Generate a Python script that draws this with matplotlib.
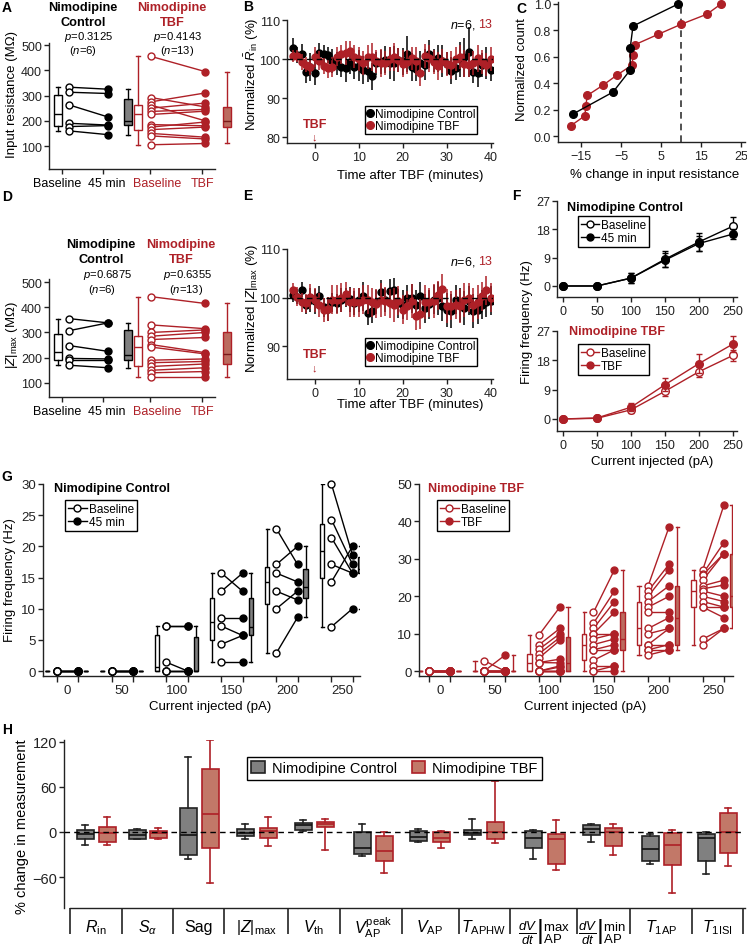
import numpy as np
import matplotlib
matplotlib.use('Agg')
import matplotlib.pyplot as plt
from matplotlib.lines import Line2D
from matplotlib.patches import Patch

plt.rcParams['font.family'] = ['Liberation Sans', 'DejaVu Sans']
plt.rcParams['font.size'] = 8.5
plt.rcParams['mathtext.fontset'] = 'custom'
plt.rcParams['mathtext.rm'] = 'Liberation Sans'
plt.rcParams['mathtext.it'] = 'Liberation Sans:italic'
plt.rcParams['mathtext.bf'] = 'Liberation Sans:bold'
plt.rcParams['axes.linewidth'] = 1.0
plt.rcParams['axes.edgecolor'] = '#222222'
plt.rcParams['xtick.major.width'] = 1.0
plt.rcParams['ytick.major.width'] = 1.0
plt.rcParams['xtick.major.size'] = 3.5
plt.rcParams['ytick.major.size'] = 3.5
plt.rcParams['xtick.major.pad'] = 2
plt.rcParams['ytick.major.pad'] = 1.5
plt.rcParams['xtick.color'] = '#222222'
plt.rcParams['ytick.color'] = '#222222'

RED = '#ae2027'
BROWN = '#bb6b5f'
HBROWN = '#c27868'
GREY = '#808080'

# ---------------- DATA ----------------
# Panel A: input resistance (MOhm)
A_ctrl_base = [333, 313, 263, 190, 177, 160]
A_ctrl_post = [325, 308, 215, 183, 181, 145]
A_tbf_base = [455, 292, 275, 262, 250, 237, 225, 185, 175, 165, 150, 140, 105]
A_tbf_post = [395, 255, 310, 200, 270, 245, 238, 180, 195, 175, 135, 128, 110]
A_p = ['0.3125', '0.4143']
A_n = [6, 13]
AD_xlabels = ['Baseline', '45 min', 'Baseline', 'TBF']

# Panel D: |Z|max (MOhm)
D_ctrl_base = [355, 307, 248, 197, 190, 170]
D_ctrl_post = [338, 338, 225, 195, 190, 160]
D_tbf_base = [442, 330, 300, 285, 272, 252, 242, 190, 180, 165, 150, 140, 125]
D_tbf_post = [415, 315, 310, 300, 280, 220, 215, 195, 185, 175, 160, 145, 125]
D_p = ['0.6875', '0.6355']

# Panels B and E: time courses
time_min = [-5, -4, -3, -2, -1, 0, 1, 2, 3, 4,
            5, 6, 7, 8, 9, 10, 11, 12, 13, 14,
            15, 16, 17, 18, 19, 20, 21, 22, 23, 24,
            25, 26, 27, 28, 29, 30, 31, 32, 33, 34,
            35, 36, 37, 38, 39, 40]
B_ctrl = [102.8, 101.0, 101.3, 96.8, 98.0, 96.4, 101.6, 101.2, 101.0, 99.5,
          98.8, 98.0, 97.7, 99.2, 98.0, 98.3, 97.2, 97.0, 95.6, 98.9,
          99.2, 99.8, 99.0, 98.9, 99.8, 99.4, 101.3, 98.0, 97.5, 99.0,
          98.6, 101.3, 99.6, 100.2, 99.5, 98.8, 97.0, 97.6, 99.9, 100.5,
          101.8, 96.8, 96.4, 98.5, 99.0, 97.3]
B_ctrl_err = [2.5, 2.0, 2.5, 3.0, 3.5, 3.0, 2.5, 2.5, 2.0, 3.0,
              3.0, 2.5, 3.5, 3.0, 3.0, 4.0, 3.5, 3.0, 3.5, 3.0,
              3.0, 3.5, 4.0, 4.5, 3.0, 3.5, 4.5, 3.5, 3.0, 3.0,
              4.0, 3.5, 3.0, 3.5, 4.0, 3.0, 3.5, 3.0, 4.5, 5.0,
              6.5, 3.0, 3.5, 3.0, 4.0, 3.0]
B_tbf = [100.8, 100.8, 99.2, 98.6, 98.0, 100.5, 99.6, 98.2, 97.6, 98.0,
         100.6, 101.2, 101.5, 102.0, 100.6, 100.0, 99.0, 100.5, 100.5, 99.4,
         99.0, 99.0, 100.0, 100.5, 99.8, 98.8, 99.2, 100.2, 99.5, 96.5,
         100.8, 100.2, 99.2, 98.2, 99.5, 98.7, 98.5, 100.0, 100.5, 98.8,
         98.5, 99.0, 100.2, 99.2, 98.6, 100.0]
B_tbf_err = [1.5, 1.5, 2.0, 2.0, 2.0, 2.5, 2.5, 2.0, 2.5, 2.5,
             2.5, 2.5, 3.0, 2.5, 3.0, 3.0, 3.0, 3.0, 3.5, 3.0,
             3.5, 3.0, 3.0, 3.5, 3.0, 3.5, 3.0, 3.0, 3.5, 3.5,
             3.0, 3.5, 3.0, 3.5, 3.0, 3.0, 3.5, 3.0, 3.0, 3.5,
             3.0, 3.0, 3.5, 3.0, 3.0, 3.0]
E_ctrl = [100.5, 100.2, 101.6, 98.5, 99.5, 99.2, 100.3, 98.0, 97.6, 99.0,
          98.8, 99.5, 100.0, 99.6, 98.8, 99.5, 100.3, 96.8, 97.2, 99.0,
          101.2, 99.5, 101.3, 101.5, 98.8, 98.5, 100.0, 99.8, 98.5, 100.3,
          97.8, 98.6, 99.5, 99.8, 98.2, 97.5, 97.2, 99.5, 98.5, 97.8,
          99.3, 97.2, 97.5, 98.5, 99.0, 99.3]
E_ctrl_err = [1.5, 1.5, 1.5, 2.0, 2.5, 2.5, 2.0, 2.0, 2.5, 2.0,
              2.0, 2.5, 2.0, 2.5, 2.5, 2.5, 3.0, 2.5, 2.5, 2.5,
              2.5, 2.5, 2.5, 2.5, 3.0, 3.0, 2.5, 3.0, 3.0, 3.0,
              3.0, 3.0, 3.0, 3.5, 3.0, 3.5, 3.5, 3.0, 3.5, 3.5,
              3.0, 3.5, 3.0, 3.0, 3.0, 3.0]
E_tbf = [101.5, 100.2, 99.0, 98.8, 100.2, 99.5, 98.5, 97.5, 97.6, 99.5,
         99.5, 100.0, 100.8, 99.0, 99.0, 99.0, 99.5, 99.5, 99.0, 98.7,
         99.5, 99.2, 98.8, 98.5, 99.3, 97.5, 98.3, 99.3, 96.2, 96.6,
         99.0, 99.0, 99.2, 100.5, 101.8, 98.3, 98.3, 98.5, 98.3, 99.5,
         100.0, 98.5, 99.0, 100.3, 101.5, 100.0]
E_tbf_err = [1.5, 2.0, 2.0, 2.0, 2.5, 2.5, 2.5, 2.5, 2.5, 3.0,
             3.0, 3.0, 2.5, 3.0, 3.0, 3.0, 3.0, 3.0, 3.0, 3.0,
             3.5, 3.0, 3.0, 3.5, 3.0, 3.0, 3.0, 3.5, 3.0, 3.0,
             3.5, 3.0, 3.5, 3.0, 3.0, 3.5, 3.0, 3.0, 3.5, 3.5,
             3.0, 3.5, 3.5, 3.0, 3.0, 3.0]

# Panel C: cumulative distributions of % change in Rin
C_ctrl_x = [-17.0, -7.0, -2.7, -2.7, -2.0, 9.3]
C_ctrl_y = [0.167, 0.333, 0.5, 0.667, 0.833, 1.0]
C_tbf_x = [-17.6, -14.0, -13.8, -13.4, -9.5, -6.0, -2.2, -2.0, -1.5, 4.2, 10.0, 16.5, 20.0]
C_tbf_y = [0.077, 0.154, 0.231, 0.308, 0.385, 0.462, 0.538, 0.615, 0.692, 0.769, 0.846, 0.923, 1.0]
C_threshold = 10

# Panel F: mean firing frequency
F_I = [0, 50, 100, 150, 200, 250]
F_ctrl_base = [0, 0, 2.5, 8.5, 14.0, 19.0]
F_ctrl_base_err = [0, 0, 1.5, 2.5, 2.8, 3.0]
F_ctrl_post = [0, 0, 2.5, 8.2, 13.5, 16.5]
F_ctrl_post_err = [0, 0, 1.5, 2.2, 2.5, 1.5]
F_tbf_base = [0, 0.2, 2.8, 8.5, 14.5, 19.5]
F_tbf_base_err = [0, 0.2, 1.0, 1.5, 1.5, 1.8]
F_tbf_post = [0, 0.3, 3.6, 10.5, 17.0, 23.0]
F_tbf_post_err = [0, 0.3, 1.2, 2.0, 3.0, 2.5]

# Panel G: individual firing frequencies
G_I = [0, 50, 100, 150, 200, 250]
G_ctrl_base = [[0, 0, 0, 0, 0, 0],
               [0, 0, 0, 0, 0, 0],
               [7.2, 7.2, 1.4, 0, 0, 0],
               [15.7, 12.8, 8.5, 7.2, 4.3, 1.4],
               [22.8, 17.1, 15.7, 12.8, 10.0, 2.9],
               [30.0, 24.3, 21.4, 17.1, 14.3, 7.1]]
G_ctrl_post = [[0, 0, 0, 0, 0, 0],
               [0, 0, 0, 0, 0, 0],
               [7.2, 7.2, 0, 0, 0, 0],
               [12.8, 15.7, 8.5, 5.7, 5.7, 1.4],
               [17.1, 20.0, 14.3, 11.4, 12.8, 8.6],
               [18.6, 17.1, 15.7, 15.7, 20.0, 10.0]]
G_tbf_base = [[0, 0, 0, 0, 0, 0, 0, 0, 0, 0, 0, 0, 0],
              [2.8, 0, 0, 0, 0, 0, 0, 0, 0, 0, 0, 0, 0],
              [9.6, 7.0, 5.8, 4.6, 3.5, 2.3, 2.3, 0, 0, 0, 0, 0, 0],
              [15.7, 12.8, 11.4, 10.0, 10.0, 8.6, 7.1, 5.7, 5.7, 2.9, 1.4, 0, 0],
              [22.8, 21.4, 20.0, 18.6, 17.1, 15.7, 11.4, 10.0, 7.1, 7.1, 5.7, 5.7, 4.3],
              [27.1, 26.0, 25.7, 24.3, 22.8, 22.0, 21.4, 20.0, 18.6, 17.1, 17.1, 8.6, 7.1]]
G_tbf_post = [[0, 0, 0, 0, 0, 0, 0, 0, 0, 0, 0, 0, 0],
              [0, 4.3, 0, 0, 0, 0, 0, 0, 0, 0, 0, 0, 0],
              [17.1, 11.4, 10.0, 9.0, 8.2, 3.2, 2.2, 1.4, 1.1, 0, 0, 0, 0],
              [27.1, 21.4, 18.6, 15.7, 10.0, 10.0, 8.6, 7.1, 5.7, 5.7, 1.4, 1.4, 0],
              [38.6, 28.6, 27.1, 22.8, 20.0, 15.7, 14.3, 11.4, 11.4, 7.1, 7.1, 5.7, 5.7],
              [44.3, 34.3, 31.4, 31.4, 24.3, 23.0, 20.0, 18.6, 17.1, 17.1, 14.3, 11.4, 11.4]]

# Panel H: % change box statistics
H_labels = [r'$R_{\rm in}$', r'$S_{\alpha}$', 'Sag', r'$|Z|_{\rm max}$', r'$V_{\rm th}$',
            r'$V_{\rm AP}^{\rm peak}$', r'$V_{\rm AP}$', r'$T_{\rm APHW}$',
            r'$\left.\frac{dV}{dt}\right|_{\rm AP}^{\rm max}$',
            r'$\left.\frac{dV}{dt}\right|_{\rm AP}^{\rm min}$',
            r'$T_{\rm 1AP}$', r'$T_{\rm 1ISI}$']
H_ctrl_med = [-3, -4, -4, -1, 9, -21, -7, -1, -8, 4, -23, -8]
H_ctrl_q1 = [-10, -10, -31, -6, 3, -29, -12, -4, -22, -4, -39, -39]
H_ctrl_q3 = [2, 3, 32, 4, 12, 0, 1, 3, 1, 9, -5, -3]
H_ctrl_lo = [-17, -10, -36, -10, 1, -32, -13, -9, -36, -13, -42, -56]
H_ctrl_hi = [9, 4, 100, 10, 16, 10, 4, 17, 3, 10, -3, 0]
H_tbf_med = [-2, -2, 24, 1, 10, -26, -8, 0, -10, 0, -17, 0]
H_tbf_q1 = [-14, -8, -21, -8, 7, -39, -13, -10, -42, -19, -44, -28]
H_tbf_q3 = [7, 1, 83, 5, 13, -5, 0, 13, -3, 5, -2, 25]
H_tbf_lo = [-18, -10, -68, -19, -24, -55, -22, -15, -51, -30, -81, -45]
H_tbf_hi = [20, 5, 122, 20, 17, 0, 1, 68, 16, 11, 2, 32]

# ---------------- LAYOUT HELPERS ----------------
W, H = 747, 945
fig = plt.figure(figsize=(W / 100, H / 100), dpi=100)


def px_ax(l, t, r, b):
    ax = fig.add_axes([l / W, 1 - b / H, (r - l) / W, (b - t) / H])
    ax.spines['top'].set_visible(False)
    ax.spines['right'].set_visible(False)
    ax.patch.set_alpha(0)
    return ax


def ftext(x, y, s, **kw):
    kw.setdefault('ha', 'center')
    kw.setdefault('va', 'center')
    return fig.text(x / W, 1 - y / H, s, **kw)


def vbox(ax, data, pos, width, face, edge, med, capw, lw=1.0):
    ax.boxplot([data], positions=[pos], widths=width, whis=(0, 100), patch_artist=True,
               showfliers=False, manage_ticks=False, capwidths=capw,
               boxprops=dict(facecolor=face, edgecolor=edge, linewidth=lw),
               medianprops=dict(color=med, linewidth=lw),
               whiskerprops=dict(color=edge, linewidth=lw),
               capprops=dict(color=edge, linewidth=lw))


def legend_px(ax, handles, labels, x, y, **kw):
    opts = dict(loc='upper left', bbox_to_anchor=(x / W, 1 - y / H), bbox_transform=fig.transFigure,
                frameon=True, fancybox=False, framealpha=1, edgecolor='black', borderpad=0.25,
                handletextpad=0.2, labelspacing=0.1, borderaxespad=0, handlelength=1.0, fontsize=8.5)
    opts.update(kw)
    leg = ax.legend(handles, labels, **opts)
    leg.get_frame().set_linewidth(1.0)
    return leg


# ---------------- PANELS A & D ----------------
def pair_panel(ax, cb, cp, tb, tp, ylim):
    ax.set_xlim(49, 235)
    ax.set_ylim(*ylim)
    ax.spines['bottom'].set_bounds(49, 215)
    vbox(ax, cb, 58, 8, 'white', 'black', 'black', 4)
    for b, p in zip(cb, cp):
        ax.plot([69, 108], [b, p], color='black', lw=1, zorder=2)
    ax.plot([69] * len(cb), cb, 'o', ms=5, mfc='white', mec='black', mew=1, zorder=3)
    ax.plot([108] * len(cp), cp, 'o', ms=5, color='black', zorder=3)
    vbox(ax, cp, 128, 8, GREY, 'black', 'black', 4)
    vbox(ax, tb, 138, 8, 'white', RED, RED, 4)
    for b, p in zip(tb, tp):
        ax.plot([151, 205], [b, p], color=RED, lw=1, zorder=2)
    ax.plot([151] * len(tb), tb, 'o', ms=5, mfc='white', mec=RED, mew=1, zorder=3)
    ax.plot([205] * len(tp), tp, 'o', ms=5, color=RED, zorder=3)
    vbox(ax, tp, 227, 8, BROWN, RED, '#7a1a1a', 4)
    ax.set_yticks([100, 200, 300, 400, 500])
    ax.xaxis.remove_overlapping_locs = False
    ax.set_xticks([62, 103, 150, 202])
    ax.set_xticklabels([])
    ax.set_xticks([57, 107, 157, 202.5], minor=True)
    ax.set_xticklabels(AD_xlabels, minor=True, fontsize=9)
    ax.tick_params(axis='x', which='minor', length=0, pad=5.5)
    for lab, c in zip(ax.get_xticklabels(minor=True), ['black', 'black', RED, RED]):
        lab.set_color(c)
    ax.tick_params(axis='y', labelsize=9)


HF = 9.2
PF = 8.1
axA = px_ax(49, 44, 235, 170)
pair_panel(axA, A_ctrl_base, A_ctrl_post, A_tbf_base, A_tbf_post, (9, 508))
ftext(83, 8, 'Nimodipine', weight='bold', fontsize=HF)
ftext(83, 23, 'Control', weight='bold', fontsize=HF)
ftext(172, 8, 'Nimodipine', weight='bold', fontsize=HF, color=RED)
ftext(172, 23, 'TBF', weight='bold', fontsize=HF, color=RED)
ftext(89, 36.5, r'$p$=' + A_p[0], fontsize=PF)
ftext(83, 51.5, r'($n$=%d)' % A_n[0], fontsize=PF)
ftext(178, 36.5, r'$p$=' + A_p[1], fontsize=PF)
ftext(177, 51.5, r'($n$=%d)' % A_n[1], fontsize=PF)
ftext(12, 95, 'Input resistance (M\u03a9)', rotation=90, fontsize=9.5)

axD = px_ax(49, 280, 235, 398)
pair_panel(axD, D_ctrl_base, D_ctrl_post, D_tbf_base, D_tbf_post, (44, 512))
ftext(101, 245, 'Nimodipine', weight='bold', fontsize=HF)
ftext(101, 260, 'Control', weight='bold', fontsize=HF)
ftext(181, 245, 'Nimodipine', weight='bold', fontsize=HF, color=RED)
ftext(181, 260, 'TBF', weight='bold', fontsize=HF, color=RED)
ftext(108, 275, r'$p$=' + D_p[0], fontsize=PF)
ftext(102, 290.5, r'($n$=%d)' % A_n[0], fontsize=PF)
ftext(188, 275, r'$p$=' + D_p[1], fontsize=PF)
ftext(186, 290.5, r'($n$=%d)' % A_n[1], fontsize=PF)
ftext(12, 335, r'$|Z|_{\rm max}$ (M$\Omega$)', rotation=90, fontsize=9.5)


# ---------------- PANELS B & E ----------------
def time_panel(ax, yc, yce, yt, yte, ylim, yticks, ntext_y, tbf_y, arr_y, leg_y):
    ax.errorbar(time_min, yc, yerr=yce, fmt='o', color='black', ms=5, elinewidth=1.1, capsize=0, zorder=3)
    ax.errorbar(time_min, yt, yerr=yte, fmt='o', color=RED, ms=5, elinewidth=1.1, capsize=0, zorder=3.5)
    ax.axhline(100, ls=(0, (4, 3)), color='black', lw=1, zorder=5)
    ax.set_xlim(-6.3, 40.5)
    ax.set_ylim(*ylim)
    ax.set_xticks([0, 10, 20, 30, 40])
    ax.set_yticks(yticks)
    ax.tick_params(labelsize=9)
    ax.text(36.6, ntext_y, r'$n$=6,', ha='right', va='center', fontsize=9)
    ax.text(37.0, ntext_y, '13', ha='left', va='center', fontsize=9, color=RED)
    ax.text(0, tbf_y, 'TBF', ha='center', va='center', color=RED, weight='bold', fontsize=9)
    ax.text(0, arr_y, '\u2193', ha='center', va='center', color=RED, fontsize=8)
    h = [Line2D([], [], ls='none', marker='o', ms=5.5, color='black'),
         Line2D([], [], ls='none', marker='o', ms=5.5, color=RED)]
    legend_px(ax, h, ['Nimodipine Control', 'Nimodipine TBF'], 365, leg_y, handlelength=0.6,
              handletextpad=0.1, borderpad=0.15, labelspacing=0.0)


axB = px_ax(287, 21, 493, 144)
time_panel(axB, B_ctrl, B_ctrl_err, B_tbf, B_tbf_err, (78.5, 110), [80, 90, 100, 110], 109, 83.3, 80.2, 107)
ftext(410, 176, 'Time after TBF (minutes)', fontsize=9.5)
ftext(252, 74, r'Normalized $\bar{R}_{\rm in}$ (%)', rotation=90, fontsize=9.5)

axE = px_ax(287, 250, 493, 380)
time_panel(axE, E_ctrl, E_ctrl_err, E_tbf, E_tbf_err, (83.2, 110), [90, 100, 110], 107.5, 88.3, 85.5, 339)
ftext(410, 405, 'Time after TBF (minutes)', fontsize=9.5)
ftext(252, 308, r'Normalized $|Z|_{\rm max}$ (%)', rotation=90, fontsize=9.5)

# ---------------- PANEL C ----------------
axC = px_ax(558, 3, 745, 143)
axC.plot(C_tbf_x, C_tbf_y, '-o', color=RED, ms=5.5, lw=1, zorder=3, clip_on=False)
axC.plot(C_ctrl_x, C_ctrl_y, '-o', color='black', ms=5.5, lw=1, zorder=4, clip_on=False)
axC.plot([C_threshold, C_threshold], [-0.045, 1.0], ls=(0, (4, 3)), color='#333333', lw=1.2, zorder=2)
axC.set_xlim(-20.75, 26)
axC.set_ylim(-0.045, 1.015)
axC.set_xticks([-15, -5, 5, 15, 25])
axC.set_yticks([0.0, 0.2, 0.4, 0.6, 0.8, 1.0])
axC.set_yticklabels(['0.0', '0.2', '0.4', '0.6', '0.8', '1.0'])
axC.tick_params(labelsize=9)
ftext(655, 175, '% change in input resistance', fontsize=9.5)
ftext(522, 70, 'Normalized count', rotation=90, fontsize=9.5)


# ---------------- PANEL F ----------------
def f_panel(ax, yb, ybe, yp, ype, color, ylim, title, title_x, title_y, leg_y, post_label):
    ax.errorbar(F_I, yb, yerr=ybe, fmt='-o', color=color, mfc='white', mec=color, ms=5.5, lw=1,
                elinewidth=1, capsize=2, zorder=3, clip_on=False)
    ax.errorbar(F_I, yp, yerr=ype, fmt='-o', color=color, ms=5.5, lw=1, elinewidth=1, capsize=2,
                zorder=4, clip_on=False)
    ax.set_xlim(-8.8, 256)
    ax.set_ylim(*ylim)
    ax.set_xticks([0, 50, 100, 150, 200, 250])
    ax.set_yticks([0, 9, 18, 27])
    ax.tick_params(labelsize=9)
    ftext(title_x, title_y, title, weight='bold', fontsize=9, color=color)
    h = [Line2D([], [], color=color, marker='o', mfc='white', mec=color, ms=5, lw=1),
         Line2D([], [], color=color, marker='o', ms=5, lw=1)]
    legend_px(ax, h, ['Baseline', post_label], 578, leg_y, handlelength=1.5)


axF1 = px_ax(557, 202, 737, 298)
f_panel(axF1, F_ctrl_base, F_ctrl_base_err, F_ctrl_post, F_ctrl_post_err, 'black', (-3.5, 27),
        'Nimodipine Control', 625, 208, 217, '45 min')
axF2 = px_ax(557, 332, 737, 432)
f_panel(axF2, F_tbf_base, F_tbf_base_err, F_tbf_post, F_tbf_post_err, RED, (-3.7, 27),
        'Nimodipine TBF', 617, 332, 345, 'TBF')
ftext(527, 322, 'Firing frequency (Hz)', rotation=90, fontsize=9.5)
ftext(652, 462, 'Current injected (pA)', fontsize=9.5)


# ---------------- PANEL G ----------------
def g_panel(ax, base, post, color, fill, ylim, xlim, yticks):
    off = 9.6
    for I, b, p in zip(G_I, base, post):
        vbox(ax, b, I - 18, 4, 'white', color, color, 3)
        for vb, vp in zip(b, p):
            ax.plot([I - off, I + off], [vb, vp], color=color, lw=1, zorder=2)
        ax.plot([I - off] * len(b), b, 'o', ms=5, mfc='white', mec=color, mew=1, zorder=3, clip_on=False)
        ax.plot([I + off] * len(p), p, 'o', ms=5, color=color, zorder=3, clip_on=False)
        vbox(ax, p, I + 17, 4, fill, color, color, 3)
    ax.set_xlim(*xlim)
    ax.set_ylim(*ylim)
    ax.set_yticks(yticks)
    major = []
    for I in G_I:
        major += [I - off, I + off]
    ax.set_xticks(major)
    ax.set_xticklabels([])
    ax.set_xticks(G_I, minor=True)
    ax.set_xticklabels([str(i) for i in G_I], minor=True)
    ax.tick_params(axis='x', which='minor', length=0, pad=5.5, labelsize=9.5)
    ax.tick_params(axis='x', which='major', length=4)
    ax.tick_params(axis='y', labelsize=9.5)


axG1 = px_ax(43, 485, 360, 677)
g_panel(axG1, G_ctrl_base, G_ctrl_post, 'black', GREY, (-0.8, 30), (-21.9, 266.4), [0, 5, 10, 15, 20, 25, 30])
ftext(112, 489, 'Nimodipine Control', weight='bold', fontsize=9)
hG1 = [Line2D([], [], color='black', marker='o', mfc='white', mec='black', ms=5, lw=1),
       Line2D([], [], color='black', marker='o', ms=5, lw=1)]
legend_px(axG1, hG1, ['Baseline', '45 min'], 65, 501, handlelength=1.6)
ftext(10, 580, 'Firing frequency (Hz)', rotation=90, fontsize=9.5)
ftext(210, 707, 'Current injected (pA)', fontsize=9.5)

axG2 = px_ax(419, 485, 733, 677)
g_panel(axG2, G_tbf_base, G_tbf_post, RED, BROWN, (-1.3, 50), (-19.2, 268), [0, 10, 20, 30, 40, 50])
ftext(476, 489, 'Nimodipine TBF', weight='bold', fontsize=9, color=RED)
hG2 = [Line2D([], [], color=RED, marker='o', mfc='white', mec=RED, ms=5, lw=1),
       Line2D([], [], color=RED, marker='o', ms=5, lw=1)]
legend_px(axG2, hG2, ['Baseline', 'TBF'], 437, 501, handlelength=1.6)
ftext(585, 707, 'Current injected (pA)', fontsize=9.5)

# ---------------- PANEL H ----------------
axH = px_ax(64, 741, 745, 909)
H_ctrl_pos = [85, 137, 188, 245, 303, 362, 418, 472, 533, 591, 650, 706]
H_tbf_pos = [107, 158, 210, 268, 325, 384, 441, 495, 556, 613, 672, 728]
H_sep = [70, 122, 173, 224, 288, 340, 402, 459, 510, 577, 630, 692, 743]
stats_c = [dict(med=m, q1=a, q3=b, whislo=lo, whishi=hi, fliers=[])
           for m, a, b, lo, hi in zip(H_ctrl_med, H_ctrl_q1, H_ctrl_q3, H_ctrl_lo, H_ctrl_hi)]
stats_t = [dict(med=m, q1=a, q3=b, whislo=lo, whishi=hi, fliers=[])
           for m, a, b, lo, hi in zip(H_tbf_med, H_tbf_q1, H_tbf_q3, H_tbf_lo, H_tbf_hi)]
axH.bxp(stats_c, positions=H_ctrl_pos, widths=17, patch_artist=True, showfliers=False,
        manage_ticks=False, capwidths=6,
        boxprops=dict(facecolor=GREY, edgecolor='#222222', linewidth=1.2),
        medianprops=dict(color='#111111', linewidth=1.2),
        whiskerprops=dict(color='#222222', linewidth=1.2),
        capprops=dict(color='#222222', linewidth=1.2))
axH.bxp(stats_t, positions=H_tbf_pos, widths=17, patch_artist=True, showfliers=False,
        manage_ticks=False, capwidths=6,
        boxprops=dict(facecolor=HBROWN, edgecolor=RED, linewidth=1.2),
        medianprops=dict(color=RED, linewidth=1.2),
        whiskerprops=dict(color=RED, linewidth=1.2),
        capprops=dict(color=RED, linewidth=1.2))
axH.axhline(0, ls=(0, (4, 3)), color='black', lw=1, zorder=5)
axH.set_xlim(64, 745)
axH.set_ylim(-101, 122)
axH.set_yticks([-60, 0, 60, 120])
axH.tick_params(axis='y', labelsize=10.5)
axH.spines['bottom'].set_bounds(70, 745)
axH.set_xticks(H_sep)
axH.set_xticklabels([])
axH.tick_params(axis='x', which='major', length=19, width=1.2)
for pc, pt, lab in zip(H_ctrl_pos, H_tbf_pos, H_labels):
    is_frac = 'frac' in lab
    fs = 13.5 if is_frac else 11.5
    axH.text((pc + pt) / 2, -0.135 if is_frac else -0.11, lab, transform=axH.get_xaxis_transform(),
             ha='center', va='center', fontsize=fs)
hH = [Patch(facecolor=GREY, edgecolor='#222222', linewidth=1.2),
      Patch(facecolor=HBROWN, edgecolor=RED, linewidth=1.2)]
legend_px(axH, hH, ['Nimodipine Control', 'Nimodipine TBF'], 247, 758, ncol=2, fontsize=10.5,
          handlelength=0.9, handleheight=0.9, columnspacing=1.0, handletextpad=0.5, borderpad=0.3)
ftext(22, 827, '% change in measurement', rotation=90, fontsize=10.5)

# ---------------- PANEL LABELS ----------------
for lab, x, y in [('A', 7, 8), ('B', 248, 7), ('C', 521, 9), ('D', 7, 197), ('E', 248, 196),
                  ('F', 516, 196), ('G', 7, 477), ('H', 7, 730)]:
    ftext(x, y, lab, weight='bold', fontsize=10)

fig.savefig('out.png', dpi=100)
